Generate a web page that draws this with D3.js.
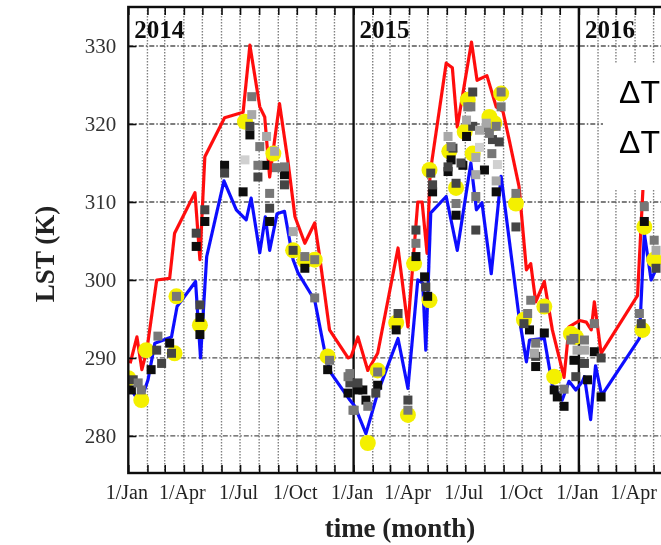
<!DOCTYPE html>
<html>
<head>
<meta charset="utf-8">
<script src="https://cdn.jsdelivr.net/npm/d3@7"></script>
<style>
body { margin: 0; background: #fff; }
</style>
</head>
<body>
<script>
// DATA
const years = ['2014', '2015', '2016'];
const yTicks = [280, 290, 300, 310, 320, 330];
const quarterMonths = ['Jan', 'Apr', 'Jul', 'Oct'];
const legendLabels = ['\u0394T', '\u0394T'];

const redLine = [
    ['2014-01-04', 289.3], ['2014-01-15', 292.7], ['2014-01-23', 288.5], ['2014-01-31', 291], ['2014-02-16', 300],
    ['2014-03-09', 300.2], ['2014-03-17', 306], ['2014-04-19', 311.2], ['2014-04-27', 302.6], ['2014-05-05', 315.8],
    ['2014-06-06', 320.8], ['2014-07-06', 321.5], ['2014-07-17', 330.1], ['2014-08-02', 322.2], ['2014-08-10', 320.9],
    ['2014-08-18', 313.2], ['2014-09-03', 322.6], ['2014-09-17', 315], ['2014-09-28', 308.1], ['2014-10-14', 304.7],
    ['2014-10-30', 307.3], ['2014-11-07', 303], ['2014-11-23', 293.6], ['2014-12-23', 290], ['2014-12-28', 290.2],
    ['2015-01-08', 292.7], ['2015-01-24', 288.4], ['2015-02-09', 290.6], ['2015-03-14', 304.1], ['2015-03-30', 294],
    ['2015-04-15', 310], ['2015-04-22', 310], ['2015-04-30', 303.4], ['2015-05-05', 313.7], ['2015-05-31', 327.8],
    ['2015-06-10', 327.2], ['2015-06-18', 319.6], ['2015-07-11', 330.5], ['2015-07-20', 325.6], ['2015-08-05', 326.2],
    ['2015-08-20', 322.2], ['2015-08-31', 321.6], ['2015-09-10', 318], ['2015-09-26', 312], ['2015-10-08', 301.3],
    ['2015-10-15', 302.1], ['2015-10-23', 297.2], ['2015-11-06', 299.8], ['2015-11-19', 293.6], ['2015-12-08', 287.5],
    ['2015-12-16', 294], ['2016-01-02', 294.8], ['2016-01-13', 294.6], ['2016-01-21', 293.6], ['2016-01-26', 297.2],
    ['2016-02-06', 290.6], ['2016-04-05', 298], ['2016-04-14', 312], ['2016-04-24', 318], ['2016-05-12', 321]
];

const blueLine = [
    ['2014-01-06', 285.9], ['2014-01-20', 284.2], ['2014-02-02', 287.2], ['2014-02-13', 291.9], ['2014-03-12', 292.7],
    ['2014-03-21', 296.6], ['2014-04-20', 299.8], ['2014-04-28', 290], ['2014-05-08', 303], ['2014-06-05', 312.7],
    ['2014-06-25', 309], ['2014-07-11', 307.7], ['2014-07-19', 310.5], ['2014-08-02', 303.5], ['2014-08-11', 308.1],
    ['2014-08-18', 303.8], ['2014-08-30', 308.5], ['2014-09-11', 308.8], ['2014-09-25', 302.6], ['2014-10-03', 300.9],
    ['2014-10-30', 297.4], ['2014-11-18', 289.7], ['2014-11-26', 288], ['2014-12-26', 284.6], ['2015-01-03', 283.8],
    ['2015-01-21', 280.3], ['2015-02-09', 285.5], ['2015-02-23', 288.5], ['2015-03-14', 292.5], ['2015-03-30', 286.1],
    ['2015-04-15', 300], ['2015-04-23', 299.6], ['2015-04-28', 291], ['2015-05-06', 308.6], ['2015-05-31', 310.7],
    ['2015-06-18', 303.8], ['2015-07-10', 315], ['2015-07-19', 309], ['2015-07-28', 309.9], ['2015-08-12', 300.8],
    ['2015-08-28', 313.3], ['2015-09-26', 295.3], ['2015-10-08', 289.5], ['2015-10-13', 292.3], ['2015-11-06', 292.5],
    ['2015-11-19', 286.5], ['2015-12-05', 284.6], ['2015-12-16', 287], ['2015-12-27', 285.9], ['2016-01-07', 287],
    ['2016-01-10', 287.6], ['2016-01-20', 282.1], ['2016-01-28', 289], ['2016-02-07', 285.2], ['2016-04-08', 292.5],
    ['2016-04-16', 306], ['2016-04-27', 300], ['2016-05-12', 302.6]
];

const yellowCircles = [
    ['2014-01-01', 287.4], ['2014-01-22', 284.6], ['2014-01-30', 291], ['2014-03-17', 290.6], ['2014-03-20', 297.9],
    ['2014-04-27', 294.2], ['2014-07-09', 320.3], ['2014-08-24', 316.2], ['2014-09-25', 303.8], ['2014-10-14', 302.5],
    ['2014-10-30', 302.6], ['2014-11-20', 290.2], ['2015-01-24', 279.1], ['2015-02-09', 288.4], ['2015-03-11', 294.5],
    ['2015-03-30', 282.7], ['2015-04-09', 302.1], ['2015-05-04', 297.4], ['2015-05-04', 314.1], ['2015-06-05', 316.5],
    ['2015-06-16', 311.8], ['2015-06-30', 319], ['2015-07-05', 323.1], ['2015-07-13', 316.2], ['2015-08-09', 320.9],
    ['2015-08-17', 320.1], ['2015-08-28', 323.9], ['2015-09-21', 309.8], ['2015-10-04', 294.9], ['2015-11-06', 296.6],
    ['2015-11-22', 287.6], ['2015-12-19', 293.1], ['2015-12-27', 292.7], ['2016-04-13', 293.6], ['2016-04-16', 306.8],
    ['2016-05-02', 302.6]
];

const blackSquares = [
    ['2014-01-06', 285.9], ['2014-02-07', 288.5], ['2014-03-09', 291.9], ['2014-04-21', 304.3], ['2014-04-27', 293],
    ['2014-04-27', 295.2], ['2014-05-05', 307.5], ['2014-06-06', 314.7], ['2014-07-06', 311.3], ['2014-07-17', 318.6],
    ['2014-08-10', 314.7], ['2014-08-18', 307.5], ['2014-09-11', 313.5], ['2014-10-14', 301.5], ['2014-11-20', 288.5],
    ['2014-12-23', 285.5], ['2015-01-08', 285.9], ['2015-01-16', 285.9], ['2015-01-21', 284.6], ['2015-02-09', 286.5],
    ['2015-03-11', 293.6], ['2015-04-12', 303], ['2015-04-26', 300.4], ['2015-05-01', 297.9], ['2015-05-09', 311.3],
    ['2015-06-03', 313.9], ['2015-06-08', 315.4], ['2015-06-16', 308.3], ['2015-06-27', 314.7], ['2015-07-03', 318.4],
    ['2015-08-01', 314.1], ['2015-08-20', 311.3], ['2015-10-13', 293.6], ['2015-10-23', 288.9], ['2015-11-06', 293.2],
    ['2015-11-22', 285.9], ['2015-11-27', 285], ['2015-12-08', 283.8], ['2015-12-24', 289.7], ['2016-01-15', 287.2],
    ['2016-01-26', 290.8], ['2016-02-06', 285], ['2016-04-16', 307.5]
];

const darkSquares = [
    ['2014-01-09', 287.2], ['2014-02-16', 291], ['2014-02-24', 289.3], ['2014-03-12', 290.6], ['2014-04-21', 306],
    ['2014-04-27', 296.8], ['2014-05-05', 309], ['2014-06-06', 313.7], ['2014-07-17', 319.7], ['2014-07-30', 313.2],
    ['2014-08-18', 309.2], ['2014-09-11', 312.2], ['2014-09-25', 303.8], ['2014-12-26', 286.8], ['2015-01-08', 286.8],
    ['2015-02-06', 285.5], ['2015-03-14', 295.7], ['2015-03-30', 284.6], ['2015-04-12', 306.4], ['2015-04-28', 299.1],
    ['2015-05-06', 313.7], ['2015-05-09', 312.2], ['2015-06-03', 314.5], ['2015-06-11', 316.9], ['2015-06-16', 312.4],
    ['2015-06-24', 315], ['2015-07-13', 324.1], ['2015-07-13', 319.7], ['2015-07-18', 306.4], ['2015-08-14', 318],
    ['2015-08-25', 317.7], ['2015-09-21', 306.8], ['2015-10-04', 294.4], ['2015-10-23', 290.2], ['2015-12-27', 287.6],
    ['2016-01-10', 289.3], ['2016-02-06', 290], ['2016-04-11', 294.4], ['2016-05-05', 301.5]
];

const graySquares = [
    ['2014-01-17', 286.8], ['2014-01-22', 285.9], ['2014-02-18', 292.8], ['2014-03-20', 297.9], ['2014-07-20', 323.5],
    ['2014-08-02', 317.1], ['2014-07-30', 314.7], ['2014-08-18', 311.1], ['2014-08-29', 314.4], ['2014-09-11', 314.5],
    ['2014-10-14', 303], ['2014-10-30', 302.6], ['2014-10-30', 297.7], ['2014-11-23', 289.7], ['2014-12-23', 287.6],
    ['2014-12-26', 288], ['2014-12-31', 283.3], ['2015-01-02', 283.3], ['2015-01-24', 283.8], ['2015-02-09', 288.2],
    ['2015-03-30', 283.3], ['2015-04-12', 304.7], ['2015-06-08', 317.1], ['2015-06-16', 309.8], ['2015-07-05', 322.2],
    ['2015-07-10', 322.2], ['2015-08-04', 319.5], ['2015-08-09', 318.8], ['2015-08-13', 316.2], ['2015-08-20', 319.7],
    ['2015-08-28', 324.1], ['2015-08-28', 322.2], ['2015-07-18', 310.7], ['2015-09-21', 311.1], ['2015-10-10', 295.7],
    ['2015-10-15', 297.4], ['2015-10-23', 291.9], ['2015-11-06', 296.4], ['2015-12-08', 286], ['2015-12-19', 292.3],
    ['2015-12-24', 292.5], ['2016-01-10', 292.3], ['2016-01-26', 294.4], ['2016-04-08', 295.7], ['2016-04-16', 309.4],
    ['2016-05-02', 305.1]
];

const lightSquares = [
    ['2014-07-20', 321.2], ['2014-08-13', 318.4], ['2014-08-26', 316.5], ['2014-09-25', 306.2], ['2015-06-03', 318.4],
    ['2015-07-03', 320.5], ['2015-07-18', 315.7], ['2015-07-18', 313.5], ['2015-07-24', 319.2], ['2015-08-04', 320.1],
    ['2015-08-20', 312.7], ['2015-10-21', 290.6], ['2015-12-29', 291], ['2016-01-10', 291], ['2016-05-05', 303.8]
];

const paleSquares = [
    ['2014-07-09', 315.4], ['2015-07-24', 317], ['2015-08-22', 314.8]
];

// DEFS
const width = 661;
const height = 545;
const plot = {left: 128.3, top: 7, bottom: 473, yearWidth: 225.5};
const squareSize = 9;
const circleRadius = 8;
const serif = '"Liberation Serif", "Times New Roman", serif';
const parse = d3.utcParse('%Y-%m-%d');

const squareSeries = [
    {data: blackSquares, color: '#111'},
    {data: darkSquares, color: '#454545'},
    {data: graySquares, color: '#777'},
    {data: lightSquares, color: '#a8a8a8'},
    {data: paleSquares, color: '#d0d0d0'}
];

// SCALES
const x = d3.scaleTime()
    .domain([new Date(Date.UTC(2014, 0, 1)), new Date(Date.UTC(2017, 0, 1))])
    .range([plot.left, plot.left + plot.yearWidth * 3]);
const y = d3.scaleLinear()
    .domain([275.25, 335])
    .range([plot.bottom, plot.top]);

const svg = d3.select('body').append('svg')
    .attr('width', width)
    .attr('height', height)
    .style('display', 'block');

svg.append('rect').attr('width', width).attr('height', height).attr('fill', '#fff');

const defs = svg.append('defs');
defs.append('clipPath').attr('id', 'plotClip')
  .append('rect')
    .attr('x', plot.left)
    .attr('y', plot.top)
    .attr('width', plot.yearWidth * 3)
    .attr('height', plot.bottom - plot.top);
defs.append('filter').attr('id', 'soft')
    .attr('x', '-5%').attr('y', '-5%').attr('width', '110%').attr('height', '110%')
  .append('feGaussianBlur').attr('stdDeviation', 0.6);

const root = svg.append('g').attr('filter', 'url(#soft)');
const plotGroup = root.append('g').attr('clip-path', 'url(#plotClip)');

// GRID
const months = d3.utcMonth.range(x.domain()[0], x.domain()[1]);
const visibleMonths = months.filter(d => x(d) <= width);

plotGroup.append('g').selectAll('line')
  .data(visibleMonths.filter(d => d.getUTCMonth() !== 0))
  .enter().append('line')
    .attr('x1', d => x(d)).attr('x2', d => x(d))
    .attr('y1', plot.top).attr('y2', plot.bottom)
    .attr('stroke', '#808080')
    .attr('stroke-width', 1.4)
    .attr('stroke-dasharray', '1.5,1.5');

plotGroup.append('g').selectAll('line')
  .data(yTicks)
  .enter().append('line')
    .attr('x1', plot.left).attr('x2', width)
    .attr('y1', d => y(d)).attr('y2', d => y(d))
    .attr('stroke', '#555')
    .attr('stroke-width', 1.3)
    .attr('stroke-dasharray', '5,2,1.5,2');

// year separators
plotGroup.append('g').selectAll('line')
  .data(years.slice(1))
  .enter().append('line')
    .attr('x1', d => x(parse(d + '-01-01'))).attr('x2', d => x(parse(d + '-01-01')))
    .attr('y1', plot.top).attr('y2', plot.bottom)
    .attr('stroke', '#111')
    .attr('stroke-width', 2.4);

// LINES
const lineGen = d3.line()
    .x(d => x(parse(d[0])))
    .y(d => y(d[1]));

plotGroup.append('path')
    .datum(redLine)
    .attr('d', lineGen)
    .attr('fill', 'none')
    .attr('stroke', '#ff1010')
    .attr('stroke-width', 3.2)
    .attr('stroke-linejoin', 'round');

plotGroup.append('path')
    .datum(blueLine)
    .attr('d', lineGen)
    .attr('fill', 'none')
    .attr('stroke', '#1010ff')
    .attr('stroke-width', 3.2)
    .attr('stroke-linejoin', 'round');

// MARKERS
plotGroup.append('g').selectAll('circle')
  .data(yellowCircles)
  .enter().append('circle')
    .attr('cx', d => x(parse(d[0])))
    .attr('cy', d => y(d[1]))
    .attr('r', circleRadius)
    .attr('fill', '#f4f000');

squareSeries.forEach(s => {
    plotGroup.append('g').selectAll('rect')
      .data(s.data)
      .enter().append('rect')
        .attr('x', d => x(parse(d[0])) - squareSize / 2)
        .attr('y', d => y(d[1]) - squareSize / 2)
        .attr('width', squareSize)
        .attr('height', squareSize)
        .attr('fill', s.color);
});

// YEAR LABELS
plotGroup.append('g').selectAll('text')
  .data(years)
  .enter().append('text')
    .attr('x', d => x(parse(d + '-01-01')) + 6)
    .attr('y', 38)
    .style('font', `bold 25px ${serif}`)
    .attr('fill', '#111')
    .text(d => d);

// LEGEND (partly cut by the picture edge)
const legend = root.append('g');
legend.append('rect')
    .attr('x', 603).attr('y', 63)
    .attr('width', 58).attr('height', 127)
    .attr('fill', '#fff');
legend.selectAll('text')
  .data(legendLabels)
  .enter().append('text')
    .attr('x', 619)
    .attr('y', (d, i) => 103 + i * 50)
    .style('font', '32px "Liberation Sans", Arial, sans-serif')
    .attr('fill', '#000')
    .text(d => d);

// FRAME
root.append('rect')
    .attr('x', plot.left).attr('y', plot.top)
    .attr('width', plot.yearWidth * 3).attr('height', plot.bottom - plot.top)
    .attr('fill', 'none')
    .attr('stroke', '#111')
    .attr('stroke-width', 2.4);

// AXES
const xAxis = d3.axisBottom(x)
    .tickValues(visibleMonths)
    .tickSize(-8)
    .tickPadding(12)
    .tickFormat(d => d.getUTCMonth() % 3 === 0 ? '1/' + quarterMonths[d.getUTCMonth() / 3] : '');
const xAxisGroup = root.append('g')
    .attr('transform', `translate(0, ${plot.bottom})`)
    .call(xAxis);
xAxisGroup.select('.domain').remove();
xAxisGroup.selectAll('line').attr('stroke', '#111').attr('stroke-width', 1.6);
xAxisGroup.selectAll('text')
    .attr('dx', -2)
    .style('font', `20px ${serif}`)
    .attr('fill', '#222');

const xTopAxis = d3.axisTop(x).tickValues(visibleMonths).tickSize(-8).tickFormat('');
const xTopGroup = root.append('g')
    .attr('transform', `translate(0, ${plot.top})`)
    .call(xTopAxis);
xTopGroup.select('.domain').remove();
xTopGroup.selectAll('line').attr('stroke', '#111').attr('stroke-width', 1.6);

const yAxis = d3.axisLeft(y)
    .tickValues(yTicks)
    .tickSize(-8)
    .tickPadding(12);
const yAxisGroup = root.append('g')
    .attr('transform', `translate(${plot.left}, 0)`)
    .call(yAxis);
yAxisGroup.select('.domain').remove();
yAxisGroup.selectAll('line').attr('stroke', '#111').attr('stroke-width', 1.6);
yAxisGroup.selectAll('text').style('font', `21px ${serif}`).attr('fill', '#333');

// AXIS TITLES
root.append('text')
    .attr('x', 400)
    .attr('y', 537)
    .attr('text-anchor', 'middle')
    .style('font', `bold 27px ${serif}`)
    .attr('fill', '#222')
    .text('time (month)');

root.append('text')
    .attr('transform', 'translate(54, 254) rotate(-90)')
    .attr('text-anchor', 'middle')
    .style('font', `bold 27px ${serif}`)
    .attr('fill', '#222')
    .text('LST (K)');
</script>
</body>
</html>
